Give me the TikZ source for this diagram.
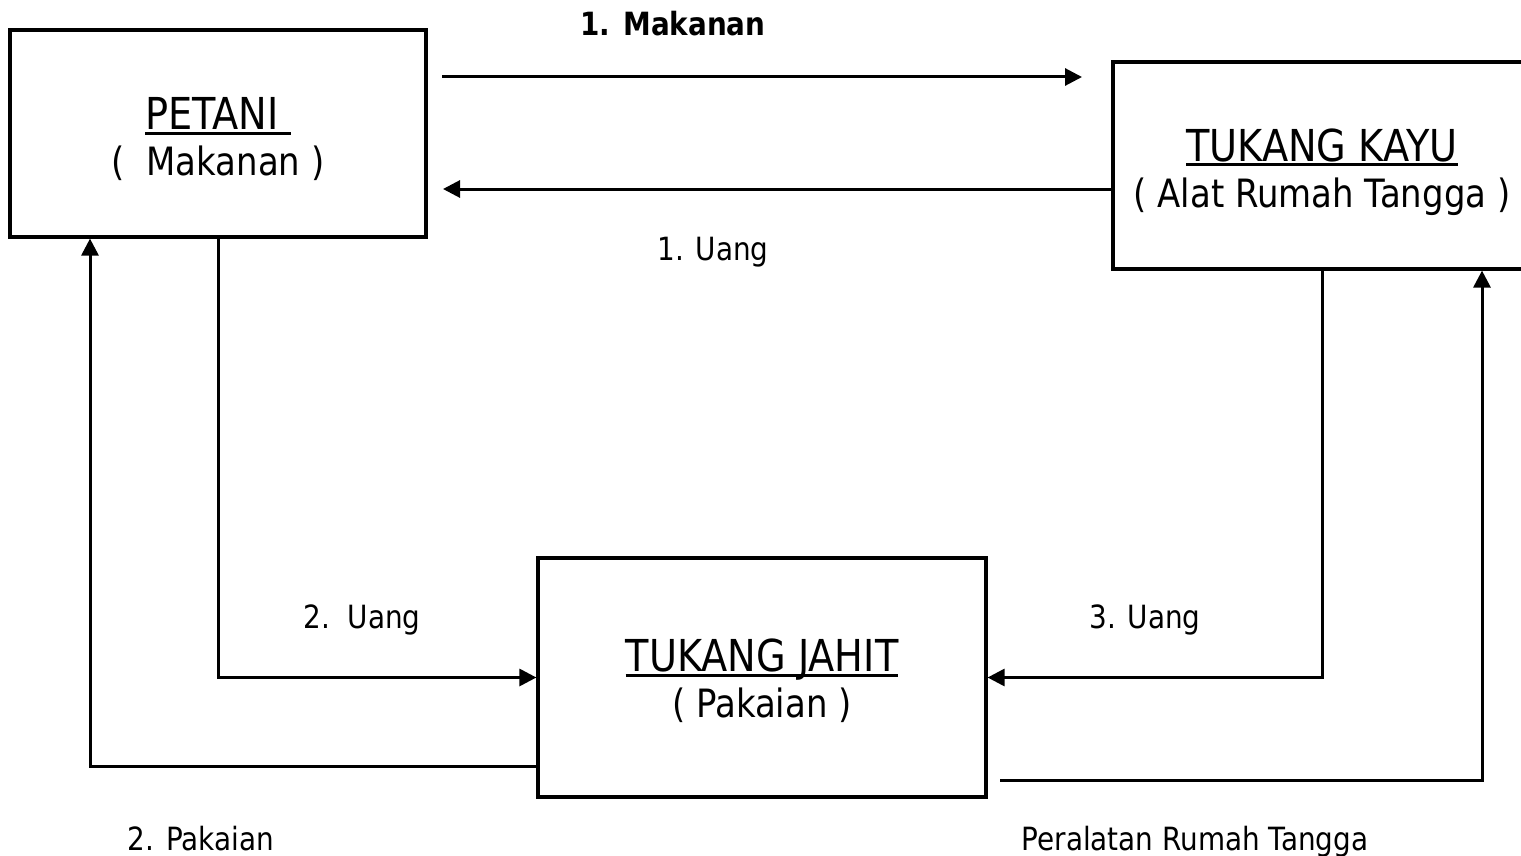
\documentclass[tikz,border=0pt]{standalone}
\usepackage{fontspec}
\setmainfont[FakeStretch=0.87]{DejaVu Sans}
\usetikzlibrary{arrows.meta}
\newcommand\myul[1]{\setbox0\hbox{#1}\rlap{\rule[-2.6pt]{\wd0}{1.5pt}}\box0}
\begin{document}
\begin{tikzpicture}[x=0.5pt,y=-0.5pt,
  box/.style={draw, line width=1.6pt, inner sep=0pt},
  ttl/.style={align=center, inner sep=0pt, font=\fontsize{20}{23}\selectfont},
  conn/.style={line width=1.5pt, -{Triangle[length=8.5pt,width=8.5pt]}},
  lbl/.style={inner sep=0pt, anchor=base, font=\fontsize{16}{19}\selectfont}]
\useasboundingbox (0,0) rectangle (1521,856);
\clip (0,0) rectangle (1521,856);
% boxes
\node[box, minimum width=208pt, minimum height=103.5pt] (petani) at (218,133.5) {};
\node[box, minimum width=209pt, minimum height=103.5pt] (kayu) at (1322,165.5) {};
\node[box, minimum width=224pt, minimum height=119.5pt] (jahit) at (762,677.5) {};
% box texts
\node[ttl] (petanit) at (218,139) {{\fontsize{22}{23}\selectfont\myul{PETANI\ }}\\{\fontsize{19.5}{23}\selectfont (\ \ Makanan )}};
\node[ttl] (kayut) at (1322,172) {{\fontsize{22}{23}\selectfont\myul{TUKANG KAYU}}\\{\fontsize{19.5}{23}\selectfont ( Alat Rumah Tangga )}};
\node[ttl] (jahitt) at (762,681) {{\fontsize{22}{23}\selectfont\myul{TUKANG JAHIT}}\\{\fontsize{19.5}{23}\selectfont ( Pakaian )}};
% helper coordinates
\coordinate (a1s) at (442,77);
\coordinate (a1e) at (1082,77);
\coordinate (a2e) at (443,189);
\coordinate (c5) at (90,766);
\coordinate (c6s) at (1000,780);
\coordinate (c6) at (1482,780);
% connectors
\draw[conn] (a1s) -- (a1e);
\draw[conn] (kayu.west |- a2e) -- (a2e);
\draw[conn] (petani.south) |- (jahit.west);
\draw[conn] (kayu.south) |- (jahit.east);
\draw[conn] (jahit.west |- c5) -- (c5) -- (c5 |- petani.south);
\draw[conn] (c6s) -- (c6) -- (c6 |- kayu.south);
% labels
\node[lbl, font=\fontsize{16}{19}\selectfont\bfseries] (l1) at (673,36) {1. Makanan};
\node[lbl] (l2) at (713,260) {1. Uang};
\node[lbl] (l3) at (362,628) {2.\ \ Uang};
\node[lbl] (l4) at (1145,628) {3. Uang};
\node[lbl] (l5) at (201,850) {2. Pakaian};
\node[lbl] (l6) at (1195,850) {Peralatan Rumah Tangga};
\end{tikzpicture}
\end{document}
